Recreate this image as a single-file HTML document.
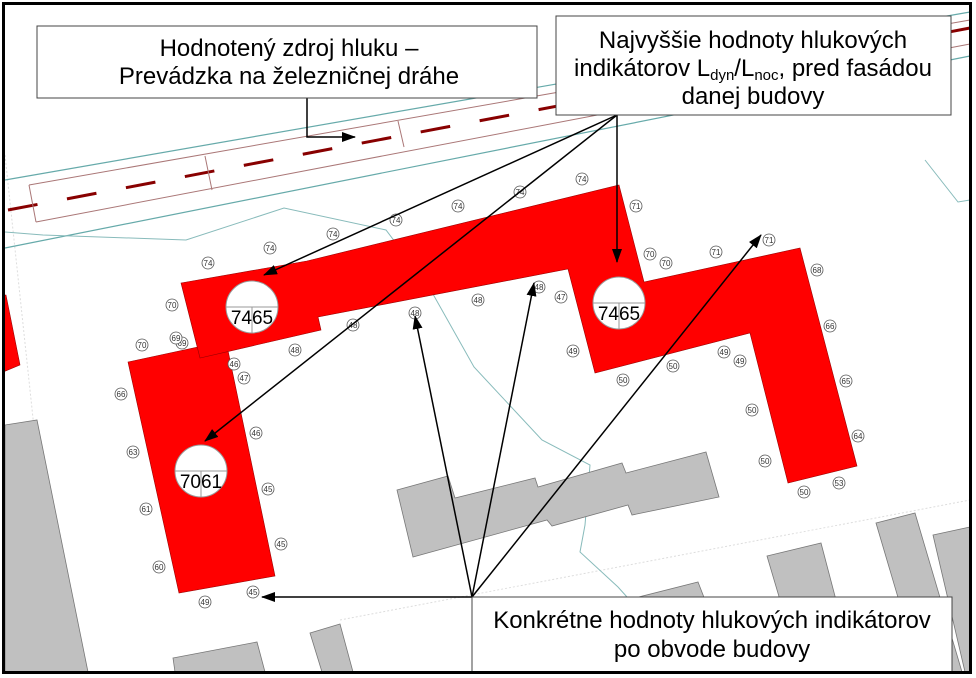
<!DOCTYPE html>
<html><head><meta charset="utf-8"><style>
html,body{margin:0;padding:0;background:#fff}
svg{display:block}
.n circle{fill:#fff;stroke:#555;stroke-width:0.8}
.n text{font:8px "Liberation Sans",sans-serif;fill:#333;text-anchor:middle}
.lbl{font:24px "Liberation Sans",sans-serif;fill:#000;text-anchor:middle}
</style></head><body>
<svg width="976" height="678" viewBox="0 0 976 678" xmlns="http://www.w3.org/2000/svg">
<defs>
<marker id="b" markerWidth="14" markerHeight="10" refX="13" refY="5" orient="auto" markerUnits="userSpaceOnUse" viewBox="0 0 14 10"><path d="M0,0L14,5L0,10z" fill="#000"/></marker></defs>
<rect width="976" height="678" fill="#fff"/>
<path d="M5,155 L60,672" stroke="#ddd" stroke-dasharray="2,2" fill="none"/>
<path d="M340,620 L970,500" stroke="#ddd" stroke-dasharray="2,2" fill="none"/>
<g fill="none">
<path d="M5,180 L970,12" stroke="#6aa" stroke-width="1.2"/>
<path d="M5,248 L970,56" stroke="#6aa" stroke-width="1.2"/>
<path d="M29,185 L970,20" stroke="#a77" stroke-width="1"/>
<path d="M36,222 L970,44" stroke="#a77" stroke-width="1"/>
<path d="M8,210 L970,28" stroke="#800" stroke-width="3" stroke-dasharray="30,30"/>
<path d="M29,185 L36,222 M205,156 L212,190 M398,121 L404,147" stroke="#a77"/>
<path d="M5,232 L43,235 L186,240 L284,208 L386,230 L429,287 L474,367 L542,440 L590,465 L585,525 L580,552 L618,587 L627,597" stroke="#8bb" stroke-width="1"/>
<path d="M925,160 L958,202 L970,200" stroke="#8bb"/>
</g>
<g fill="#c0c0c0" stroke="#777" stroke-width="0.8">
<polygon points="5,425 37,420 88,672 5,672"/>
<polygon points="397,490 448,476 455,498 535,478 538,487 622,463 626,473 706,452 719,497 632,515 628,505 552,526 547,520 413,557"/>
<polygon points="767,556 821,543 836,600 780,600"/>
<polygon points="876,523 915,513 962,672 920,672"/>
<polygon points="933,535 970,527 970,672 965,672"/>
<polygon points="627,600 698,582 705,600"/>
<polygon points="173,658 257,642 265,672 175,672"/>
<polygon points="310,633 340,624 353,672 322,672"/>
</g>
<g fill="#ff0000" stroke="#900" stroke-width="0.6">
<polygon points="3,295 6,295 20,365 3,372"/>
<polygon points="128,362 226,341 275,576 179,593"/>
<polygon points="181,283 307,261 619,185 644,282 800,248 857,466 788,483 750,333 595,373 568,269 318,317 321,330 200,358"/>
</g>
<g font-family="Liberation Sans,sans-serif" font-size="19" text-anchor="middle">
<circle cx="252" cy="307" r="26" fill="#fff" stroke="#999"/><path d="M226,307H278M252,307V333" stroke="#999"/><text x="252" y="324">7465</text>
<circle cx="619" cy="303" r="26" fill="#fff" stroke="#999"/><path d="M593,303H645M619,303V329" stroke="#999"/><text x="619" y="320">7465</text>
<circle cx="201" cy="471" r="26" fill="#fff" stroke="#999"/><path d="M175,471H227M201,471V497" stroke="#999"/><text x="201" y="488">7061</text>
</g>
<g class="n">
<g transform="translate(208,263)"><circle r="6"/><text y="3">74</text></g>
<g transform="translate(270,248)"><circle r="6"/><text y="3">74</text></g>
<g transform="translate(333,234)"><circle r="6"/><text y="3">74</text></g>
<g transform="translate(396,220)"><circle r="6"/><text y="3">74</text></g>
<g transform="translate(458,206)"><circle r="6"/><text y="3">74</text></g>
<g transform="translate(520,192)"><circle r="6"/><text y="3">74</text></g>
<g transform="translate(582,179)"><circle r="6"/><text y="3">74</text></g>
<g transform="translate(636,206)"><circle r="6"/><text y="3">71</text></g>
<g transform="translate(716,252)"><circle r="6"/><text y="3">71</text></g>
<g transform="translate(769,240)"><circle r="6"/><text y="3">71</text></g>
<g transform="translate(650,254)"><circle r="6"/><text y="3">70</text></g>
<g transform="translate(666,263)"><circle r="6"/><text y="3">70</text></g>
<g transform="translate(172,305)"><circle r="6"/><text y="3">70</text></g>
<g transform="translate(142,345)"><circle r="6"/><text y="3">70</text></g>
<g transform="translate(182,343)"><circle r="6"/><text y="3">69</text></g>
<g transform="translate(176,338)"><circle r="6"/><text y="3">69</text></g>
<g transform="translate(295,350)"><circle r="6"/><text y="3">48</text></g>
<g transform="translate(353,325)"><circle r="6"/><text y="3">48</text></g>
<g transform="translate(415,313)"><circle r="6"/><text y="3">48</text></g>
<g transform="translate(478,300)"><circle r="6"/><text y="3">48</text></g>
<g transform="translate(539,287)"><circle r="6"/><text y="3">48</text></g>
<g transform="translate(561,297)"><circle r="6"/><text y="3">47</text></g>
<g transform="translate(244,378)"><circle r="6"/><text y="3">47</text></g>
<g transform="translate(234,364)"><circle r="6"/><text y="3">46</text></g>
<g transform="translate(256,433)"><circle r="6"/><text y="3">46</text></g>
<g transform="translate(573,351)"><circle r="6"/><text y="3">49</text></g>
<g transform="translate(724,352)"><circle r="6"/><text y="3">49</text></g>
<g transform="translate(740,361)"><circle r="6"/><text y="3">49</text></g>
<g transform="translate(205,602)"><circle r="6"/><text y="3">49</text></g>
<g transform="translate(623,380)"><circle r="6"/><text y="3">50</text></g>
<g transform="translate(673,366)"><circle r="6"/><text y="3">50</text></g>
<g transform="translate(752,410)"><circle r="6"/><text y="3">50</text></g>
<g transform="translate(765,461)"><circle r="6"/><text y="3">50</text></g>
<g transform="translate(804,492)"><circle r="6"/><text y="3">50</text></g>
<g transform="translate(817,270)"><circle r="6"/><text y="3">68</text></g>
<g transform="translate(830,326)"><circle r="6"/><text y="3">66</text></g>
<g transform="translate(121,394)"><circle r="6"/><text y="3">66</text></g>
<g transform="translate(846,381)"><circle r="6"/><text y="3">65</text></g>
<g transform="translate(858,436)"><circle r="6"/><text y="3">64</text></g>
<g transform="translate(839,483)"><circle r="6"/><text y="3">53</text></g>
<g transform="translate(133,452)"><circle r="6"/><text y="3">63</text></g>
<g transform="translate(146,509)"><circle r="6"/><text y="3">61</text></g>
<g transform="translate(159,567)"><circle r="6"/><text y="3">60</text></g>
<g transform="translate(268,489)"><circle r="6"/><text y="3">45</text></g>
<g transform="translate(281,544)"><circle r="6"/><text y="3">45</text></g>
<g transform="translate(253,592)"><circle r="6"/><text y="3">45</text></g>
</g>
<g stroke="#000" stroke-width="1.5" fill="none">
<path d="M307,98 V137 H355" marker-end="url(#b)"/>
<path d="M617,115 L264,275" marker-end="url(#b)"/>
<path d="M617,115 L205,441" marker-end="url(#b)"/>
<path d="M617,115 V262" marker-end="url(#b)"/>
<path d="M472,597 L262,597" marker-end="url(#b)"/>
<path d="M472,597 L415,316" marker-end="url(#b)"/>
<path d="M472,597 L534,283" marker-end="url(#b)"/>
<path d="M472,597 L761,235" marker-end="url(#b)"/>
</g>
<rect x="37" y="26" width="500" height="72" fill="#fff" stroke="#444" stroke-width="1"/>
<text class="lbl" x="289" y="56">Hodnotený zdroj hluku –</text>
<text class="lbl" x="289" y="84">Prevádzka na železničnej dráhe</text>
<rect x="556" y="16" width="395" height="99" fill="#fff" stroke="#444" stroke-width="1"/>
<text class="lbl" x="753" y="48">Najvyššie hodnoty hlukových</text>
<text class="lbl" x="753" y="76">indikátorov L<tspan font-size="15" dy="4">dyn</tspan><tspan dy="-4">/L</tspan><tspan font-size="15" dy="4">noc</tspan><tspan dy="-4">, pred fasádou</tspan></text>
<text class="lbl" x="753" y="104">danej budovy</text>
<rect x="472" y="597" width="480" height="76" fill="#fff" stroke="#444" stroke-width="1"/>
<text class="lbl" x="712" y="628">Konkrétne hodnoty hlukových indikátorov</text>
<text class="lbl" x="712" y="657">po obvode budovy</text>
<rect x="3.5" y="3.5" width="967" height="669" fill="none" stroke="#000" stroke-width="3"/>
</svg>
</body></html>
